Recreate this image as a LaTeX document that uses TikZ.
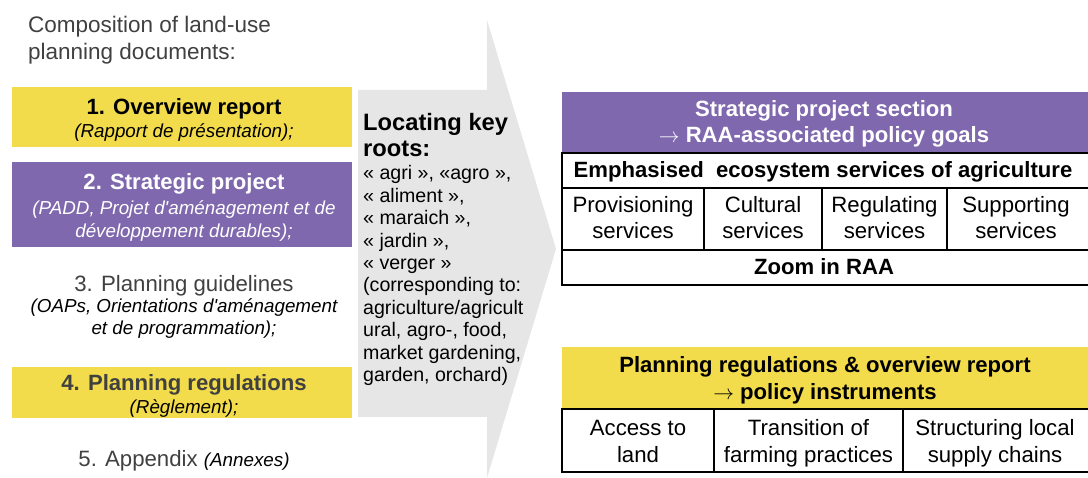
\documentclass[tikz,border=0pt]{standalone}
\usepackage{fontspec}
\setmainfont{Liberation Sans}[Ligatures=TeXOff]
\definecolor{ylw}{HTML}{F2DC4B}
\definecolor{prp}{HTML}{7F68AD}
\definecolor{arrg}{HTML}{E6E6E6}
\definecolor{dg}{HTML}{404040}
\tikzset{
  bx/.style={inner sep=0, outer sep=0, anchor=north west},
  cell/.style={draw=black, line width=1.4pt, inner sep=0, outer sep=0, anchor=north west},
  tx/.style={anchor=base, inner sep=0, font=\fontsize{22.2}{26}\selectfont},
  tb/.style={anchor=base, inner sep=0, font=\fontsize{22.1}{26}\selectfont\bfseries},
  ti/.style={anchor=base, inner sep=0, font=\fontsize{18.8}{22}\selectfont\itshape},
  ts/.style={anchor=base west, inner sep=0, font=\fontsize{19.6}{22}\selectfont},
}
\begin{document}
\begin{tikzpicture}[x=1pt,y=-1pt]
\useasboundingbox (0,0) rectangle (1088,478);
\clip (0,0) rectangle (1088,478);
% title
\node[anchor=base west, inner sep=0, text=dg, font=\fontsize{22.5}{26}\selectfont] (t1) at (28,33) {Composition of land-use};
\node[anchor=base west, inner sep=0, text=dg, font=\fontsize{22.5}{26}\selectfont] (t2) at (28,60) {planning documents:};
% box 1
\node[bx, fill=ylw, minimum width=340, minimum height=60] (b1) at (12,87) {};
\node[tb] (b1a) at (184,115) {1. Overview report};
\node[ti] (b1b) at (184,138) {(Rapport de présentation);};
% box 2
\node[bx, fill=prp, minimum width=340, minimum height=85] (b2) at (12,162) {};
\node[tb, text=white] (b2a) at (184,190) {2. Strategic project};
\node[ti, text=white] (b2b) at (184,215) {(PADD, Projet d'aménagement et de};
\node[ti, text=white] (b2c) at (184,238) {développement durables);};
% item 3
\node[tx, text=dg] (b3a) at (184,292) {3. Planning guidelines};
\node[ti] (b3b) at (184,313) {(OAPs, Orientations d'aménagement};
\node[ti] (b3c) at (184,335) {et de programmation);};
% box 4
\node[bx, fill=ylw, minimum width=340, minimum height=51] (b4) at (12,367) {};
\node[tb, text=dg] (b4a) at (184,391) {4. Planning regulations};
\node[ti] (b4b) at (184,414) {(Règlement);};
% item 5
\node[anchor=base, inner sep=0] (b5) at (184,467) {\fontsize{22.2}{26}\selectfont\color{dg}5. Appendix {\fontsize{18.8}{22}\selectfont\itshape\color{black}(Annexes)}};
% big arrow
\fill[arrg] (358,90) -- (487,90) -- (487,20) -- (556,249) -- (487,478) -- (487,417) -- (358,417) -- cycle;
\node[anchor=base west, inner sep=0, font=\fontsize{23.7}{27}\selectfont\bfseries] (k1) at (363,131) {Locating key};
\node[anchor=base west, inner sep=0, font=\fontsize{23.7}{27}\selectfont\bfseries] (k2) at (363,157) {roots:};
\foreach \t [count=\i] in {{« agri », «agro »,},{« aliment »,},{« maraich »,},{« jardin »,},{« verger »},{(corresponding to:},{agriculture/agricult},{ural, agro-, food,},{market gardening,},{garden, orchard)}}
  \node[ts] (s\i) at (363,{180+22.4*(\i-1)}) {\t};
% top table
\node[bx, fill=prp, minimum width=528, minimum height=61] (ph) at (562,92) {};
\node[tb, text=white] (ph1) at (824,117) {Strategic project section};
\node[tb, text=white] (ph2) at (824,143) {$\rightarrow$ RAA-associated policy goals};
\node[cell, minimum width=528, minimum height=35] (em) at (562,153) {};
\node[tb] (em1) at (823,178) {Emphasised\ \ ecosystem services of agriculture};
\node[cell, minimum width=142, minimum height=62] (cp) at (562,188) {};
\node[cell, minimum width=118, minimum height=62] (cc) at (704,188) {};
\node[cell, minimum width=125, minimum height=62] (cr) at (822,188) {};
\node[cell, minimum width=143, minimum height=62] (cs) at (947,188) {};
\node[tx] (cp1) at (633,213) {Provisioning};
\node[tx] (cp2) at (633,239) {services};
\node[tx] (cc1) at (763,213) {Cultural};
\node[tx] (cc2) at (763,239) {services};
\node[tx] (cr1) at (884.5,213) {Regulating};
\node[tx] (cr2) at (884.5,239) {services};
\node[tx] (cs1) at (1016,213) {Supporting};
\node[tx] (cs2) at (1016,239) {services};
\node[cell, minimum width=528, minimum height=35] (zm) at (562,250) {};
\node[tb] (zm1) at (824,275) {Zoom in RAA};
% bottom table
\node[bx, fill=ylw, minimum width=528, minimum height=62] (yh) at (562,347) {};
\node[tb] (yh1) at (825,373) {Planning regulations \& overview report};
\node[tb] (yh2) at (825,400) {$\rightarrow$ policy instruments};
\node[cell, minimum width=152, minimum height=63] (ca) at (562,409) {};
\node[cell, minimum width=189, minimum height=63] (ct) at (714,409) {};
\node[cell, minimum width=187, minimum height=63] (cl) at (903,409) {};
\node[tx] (ca1) at (638,436) {Access to};
\node[tx] (ca2) at (638,462) {land};
\node[tx] (ct1) at (808.5,436) {Transition of};
\node[tx] (ct2) at (808.5,462) {farming practices};
\node[tx] (cl1) at (995,436) {Structuring local};
\node[tx] (cl2) at (995,462) {supply chains};
\end{tikzpicture}
\end{document}
